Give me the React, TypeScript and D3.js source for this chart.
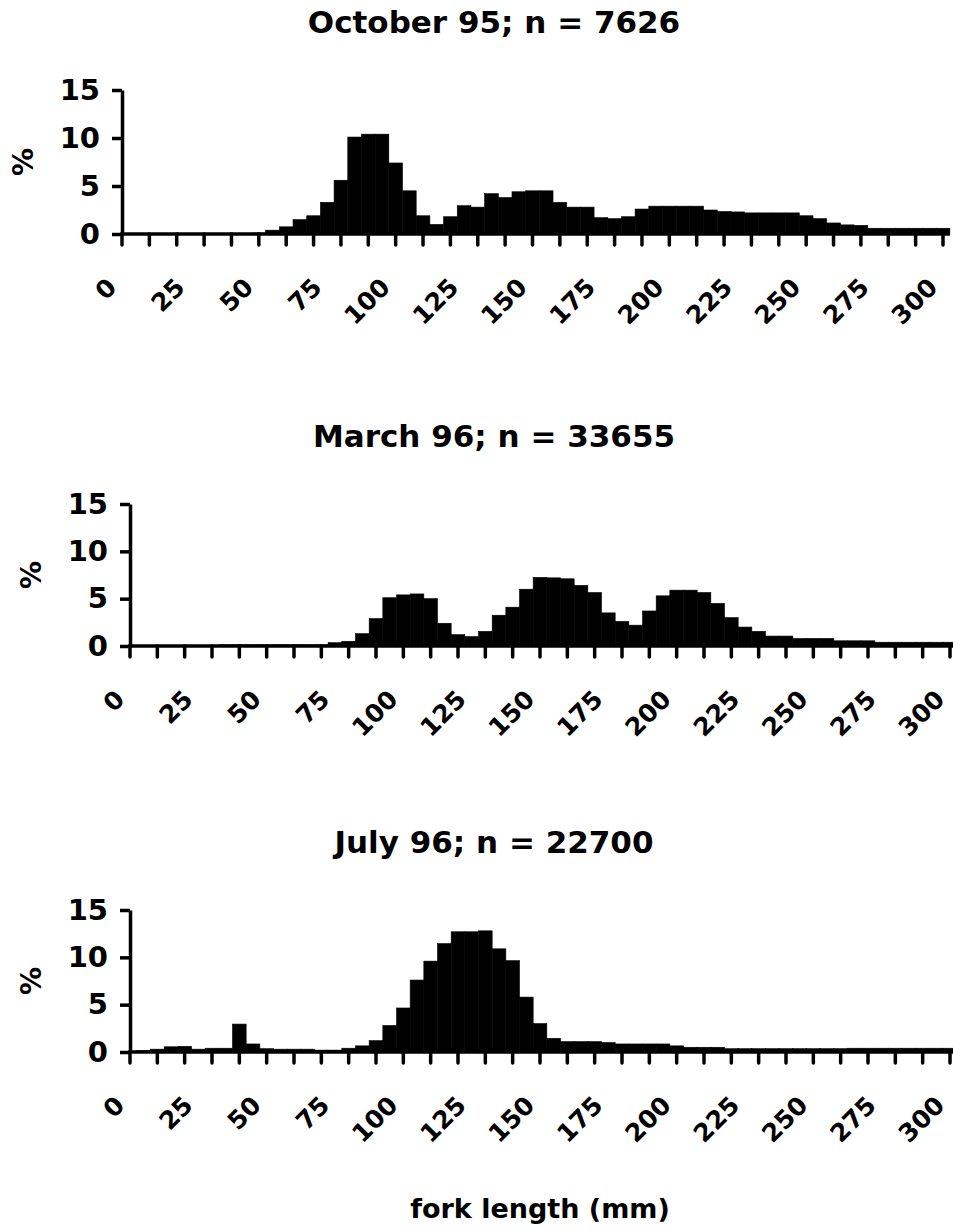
import React from 'react';
import * as d3 from 'd3';

// fork length bins (mm, bin centre) and % of catch per bin
const binCentres = [0, 5, 10, 15, 20, 25, 30, 35, 40, 45, 50, 55, 60, 65, 70, 75, 80, 85, 90, 95,
  100, 105, 110, 115, 120, 125, 130, 135, 140, 145, 150, 155, 160, 165, 170, 175, 180, 185, 190, 195,
  200, 205, 210, 215, 220, 225, 230, 235, 240, 245, 250, 255, 260, 265, 270, 275, 280, 285, 290, 295, 300];

const october95 = [0, 0, 0, 0, 0, 0, 0, 0, 0, 0,
  0.1, 0.4, 0.75, 1.5, 1.9, 3.3, 5.6, 10.1, 10.4, 10.4,
  7.4, 4.5, 1.9, 1.0, 1.8, 2.95, 2.8, 4.2, 3.8, 4.4,
  4.5, 4.5, 3.3, 2.8, 2.8, 1.7, 1.6, 1.8, 2.6, 2.9,
  2.9, 2.9, 2.9, 2.5, 2.35, 2.3, 2.2, 2.2, 2.2, 2.2,
  1.9, 1.6, 1.15, 0.95, 0.9, 0.6, 0.6, 0.6, 0.6, 0.6, 0.6];

const march96 = [0.05, 0.05, 0.05, 0.05, 0.05, 0.05, 0.05, 0.12, 0.12, 0.12,
  0.12, 0.12, 0.12, 0.12, 0.12, 0.35, 0.5, 1.3, 2.9, 5.1,
  5.4, 5.5, 5.0, 2.4, 1.2, 1.0, 1.55, 3.25, 4.1, 6.0,
  7.25, 7.2, 7.1, 6.4, 5.65, 3.5, 2.6, 2.2, 3.7, 5.3,
  5.9, 5.9, 5.65, 4.5, 3.0, 2.0, 1.55, 1.05, 1.05, 0.8,
  0.8, 0.8, 0.55, 0.55, 0.55, 0.4, 0.4, 0.4, 0.4, 0.4, 0.4];

const july96 = [0.1, 0.15, 0.3, 0.55, 0.6, 0.3, 0.4, 0.4, 2.95, 0.85,
  0.35, 0.3, 0.3, 0.3, 0.2, 0.2, 0.4, 0.65, 1.2, 2.8,
  4.65, 7.6, 9.6, 11.45, 12.7, 12.7, 12.8, 10.9, 9.65, 5.8,
  3.0, 1.45, 1.1, 1.1, 1.1, 1.0, 0.85, 0.85, 0.85, 0.85,
  0.65, 0.5, 0.5, 0.5, 0.35, 0.35, 0.35, 0.35, 0.35, 0.35,
  0.35, 0.35, 0.35, 0.4, 0.4, 0.4, 0.4, 0.4, 0.4, 0.4, 0.4];

const panelTitles = ['October 95; n = 7626', 'March 96; n = 33655', 'July 96; n = 22700'];
const panelValues = [october95, march96, july96];

const yTicks = [0, 5, 10, 15];
const xTicks = [0, 10, 20, 30, 40, 50, 60, 70, 80, 90, 100, 110, 120, 130, 140, 150,
  160, 170, 180, 190, 200, 210, 220, 230, 240, 250, 260, 270, 280, 290, 300];
const xLabels = [0, 25, 50, 75, 100, 125, 150, 175, 200, 225, 250, 275, 300];
const xTitle = 'fork length (mm)';
const yTitle = '%';

const width = 953;
const height = 1231;
const binWidth = 5;
const font = '"DejaVu Sans", Arial, sans-serif';

// pixel frame of each panel's plot area
const frames = [
  { left: 122, right: 943, top: 90, bottom: 234 },
  { left: 130, right: 950, top: 504, bottom: 646 },
  { left: 130, right: 950, top: 910, bottom: 1052 },
];

const useD3 = (renderFn, deps) => {
  const ref = React.useRef(null);
  React.useEffect(() => {
    renderFn(ref);
  }, deps);
  return ref;
};

function drawPanel(svg, title, values, frame) {
  const x = d3.scaleLinear([0, 300], [frame.left, frame.right]);
  const y = d3.scaleLinear([0, 15], [frame.bottom, frame.top]);
  const g = svg.append('g');

  // title
  g.append('text')
    .attr('x', 494)
    .attr('y', frame.top - 57)
    .attr('text-anchor', 'middle')
    .attr('font-family', font)
    .attr('font-weight', 'bold')
    .attr('font-size', 31)
    .text(title);

  // bars
  g.append('g')
    .selectAll('rect')
    .data(binCentres.map((c, i) => ({ c, v: values[i] })).filter(d => d.v > 0))
    .join('rect')
    .attr('x', d => x(Math.max(0, d.c - binWidth / 2)))
    .attr('width', d => x(Math.min(300 + binWidth / 2, d.c + binWidth / 2)) - x(Math.max(0, d.c - binWidth / 2)))
    .attr('y', d => y(d.v))
    .attr('height', d => y(0) - y(d.v))
    .attr('fill', '#000')
    .attr('stroke', '#000')
    .attr('stroke-width', 0.6);

  // y axis
  g.append('g')
    .attr('transform', `translate(${frame.left},0)`)
    .call(d3.axisLeft(y).tickValues(yTicks).tickSize(10).tickSizeOuter(0).tickPadding(12))
    .call(a => a.select('.domain').attr('stroke-width', 3.5))
    .call(a => a.selectAll('.tick line').attr('stroke-width', 3.5))
    .call(a => a.selectAll('.tick text')
      .attr('font-family', font)
      .attr('font-weight', 'bold')
      .attr('font-size', 29));

  // x axis line and ticks
  g.append('line')
    .attr('x1', frame.left - 1.75)
    .attr('x2', x(300 + binWidth / 2))
    .attr('y1', y(0))
    .attr('y2', y(0))
    .attr('stroke', '#000')
    .attr('stroke-width', 3.5);

  g.append('g')
    .selectAll('line')
    .data(xTicks)
    .join('line')
    .attr('x1', d => x(d))
    .attr('x2', d => x(d))
    .attr('y1', y(0))
    .attr('y2', y(0) + 11)
    .attr('stroke', '#000')
    .attr('stroke-width', 3.5)
    .attr('stroke-linecap', 'round');

  g.append('g')
    .selectAll('text')
    .data(xLabels)
    .join('text')
    .attr('transform', d => `translate(${x(d) - 4},${y(0) + 55}) rotate(-45)`)
    .attr('text-anchor', 'end')
    .attr('font-family', font)
    .attr('font-weight', 'bold')
    .attr('font-size', 25)
    .text(d => d);

  // y title
  g.append('text')
    .attr('transform', `translate(${frame.left - 99},${(frame.top + frame.bottom) / 2}) rotate(-90)`)
    .attr('text-anchor', 'middle')
    .attr('dominant-baseline', 'central')
    .attr('font-family', font)
    .attr('font-weight', 'bold')
    .attr('font-size', 28)
    .text(yTitle);
}

export default function App() {
  const ref = useD3((r) => {
    const svg = d3.select(r.current);
    svg.selectAll('*').remove();
    svg.append('rect').attr('width', width).attr('height', height).attr('fill', '#fff');

    panelTitles.forEach((t, i) => drawPanel(svg, t, panelValues[i], frames[i]));

    svg.append('text')
      .attr('x', 540)
      .attr('y', 1218)
      .attr('text-anchor', 'middle')
      .attr('font-family', font)
      .attr('font-weight', 'bold')
      .attr('font-size', 27)
      .text(xTitle);
  }, []);

  return (
    <svg
      ref={ref}
      width={width}
      height={height}
      viewBox={`0 0 ${width} ${height}`}
      style={{ position: 'absolute', left: 0, top: 0, display: 'block' }}
    />
  );
}
